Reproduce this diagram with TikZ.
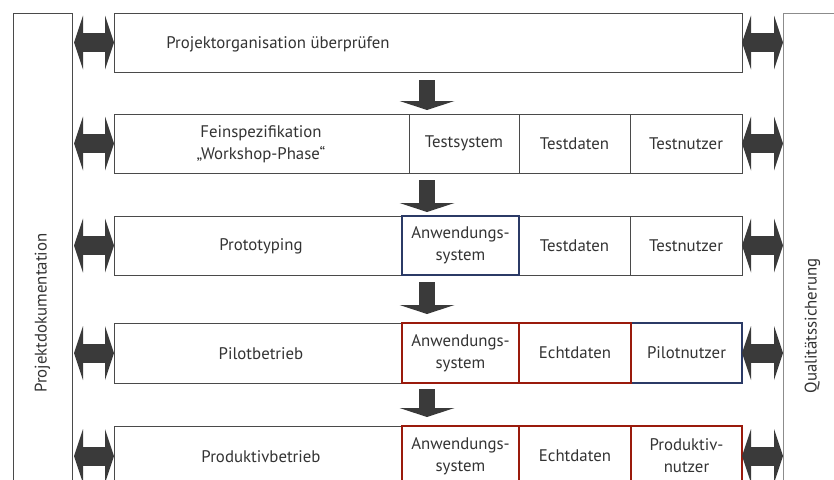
\documentclass[tikz,border=0pt]{standalone}
\usepackage{fontspec}
\setmainfont{PT Sans}
\usepackage{tikz}
\usetikzlibrary{positioning}
\usetikzlibrary{arrows.meta}

\definecolor{frameGray}{HTML}{4A4A4A}
\definecolor{sideGray}{HTML}{8C8C8C}
\definecolor{arrowGray}{HTML}{3A3A3A}
\definecolor{textGray}{HTML}{333333}
\definecolor{sysRed}{HTML}{9A1A0C}
\definecolor{sysBlue}{HTML}{2B3A66}

\tikzset{
  phase/.style={draw=frameGray, line width=1pt, minimum width=628pt, minimum height=59pt,
    inner sep=0pt, outer sep=0pt, anchor=north west},
  label/.style={text=textGray, align=center, inner sep=0pt},
  cell/.style={draw=frameGray, line width=0.9pt, minimum height=59pt, inner sep=0pt,
    outer sep=0pt, align=center, text=textGray, anchor=north west},
  redcell/.style={cell, draw=sysRed, line width=2.8pt},
  bluecell/.style={cell, draw=sysBlue, line width=2.8pt},
  side/.style={draw, line width=1pt, minimum width=59pt, inner sep=0pt, outer sep=0pt,
    text=textGray, anchor=north west},
  flow/.style={draw=arrowGray, line width=16pt, -{Triangle[length=9pt,width=55pt,line width=0pt]}},
  link/.style={draw=arrowGray, line width=19pt,
    {Triangle[length=9pt,width=54pt,line width=0pt]}-{Triangle[length=9pt,width=54pt,line width=0pt]}},
}

\begin{document}
\begin{tikzpicture}[x=1pt,y=-1pt,font=\fontsize{16.8}{22}\selectfont]
\useasboundingbox (0,0) rectangle (834,479);
\clip (0,0) rectangle (834,479);

% side bars
\node[side, draw=frameGray, minimum height=600pt] (pdoc) at (13,13) {\rotatebox{90}{Projektdokumentation}};
\node[side, draw=sideGray, minimum height=626pt] (qs) at (783,13) {\rotatebox{90}{Qualitätssicherung}};

% phases
\node[phase] (r1) at (114,13) {};
\node[phase] (r2) at (114,114) {};
\node[phase] (r3) at (114,216) {};
\node[phase, minimum height=60pt] (r4) at (114,323) {};
\node[phase, minimum height=60pt] (r5) at (114,426) {};

\node[label] (l1) at (278,44) {Projektorganisation überprüfen};
\node[label] (l2) at (261,144.5) {Feinspezifikation\\„Workshop-Phase“};
\node[label] (l3) at (261,246.5) {Prototyping};
\node[label] (l4) at (261,354) {Pilotbetrieb};
\node[label] (l5) at (261,457) {Produktivbetrieb};

% row 2
\node[cell, minimum width=110pt] (c21) at (409,114) {Testsystem};
\node[cell, minimum width=111pt, right=0pt of c21.north east, anchor=north west] (c22) {Testdaten};
\node[cell, minimum width=112pt, right=0pt of c22.north east, anchor=north west] (c23) {Testnutzer};

% row 3
\node[cell, minimum width=111pt] (c32) at (519,216) {Testdaten};
\node[cell, minimum width=112pt, right=0pt of c32.north east, anchor=north west] (c33) {Testnutzer};
\node[bluecell, minimum width=117pt] (c31) at (402,216) {Anwendungs-\\system};

% row 4
\node[redcell, minimum width=117pt, minimum height=60pt] (c41) at (402,323) {Anwendungs-\\system};
\node[bluecell, minimum width=111pt, minimum height=60pt] (c43) at (631,323) {Pilotnutzer};
\node[redcell, minimum width=112pt, minimum height=60pt] (c42) at (519,323) {Echtdaten};

% row 5
\node[redcell, minimum width=117pt, minimum height=60pt] (c51) at (402,426) {Anwendungs-\\system};
\node[redcell, minimum width=112pt, minimum height=60pt] (c52) at (519,426) {Echtdaten};
\node[redcell, minimum width=111pt, minimum height=60pt] (c53) at (631,426) {Produktiv-\\nutzer};

% flow down
\coordinate (fx) at (427,0);
\draw[flow, shorten <=8pt, shorten >=4pt] (r1.south -| fx) -- (r2.north -| fx);
\draw[flow, shorten <=7pt, shorten >=4pt] (r2.south -| fx) -- (r3.north -| fx);
\draw[flow, shorten <=7pt, shorten >=9pt] (r3.south -| fx) -- (r4.north -| fx);
\draw[flow, shorten <=6pt, shorten >=9pt] (r4.south -| fx) -- (r5.north -| fx);

% links to the side bars
\foreach \r in {r1,r2,r3,r4,r5}{
  \draw[link, shorten <=2pt] (pdoc.east |- \r.west) -- (\r.west);
  \draw[link] (\r.east) -- (qs.west |- \r.east);
}
\end{tikzpicture}
\end{document}
